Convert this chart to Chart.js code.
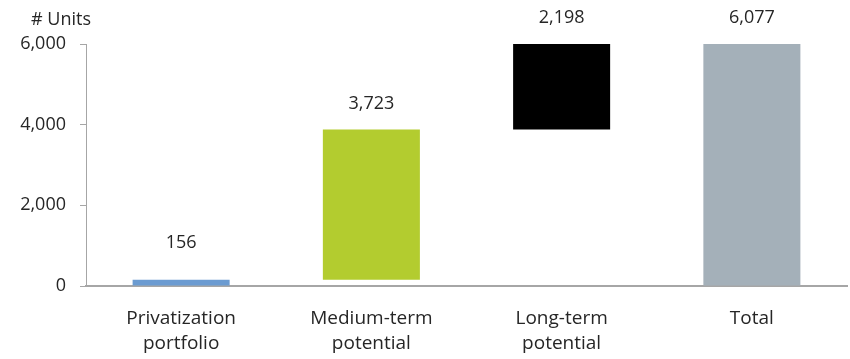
<!DOCTYPE html>
<html>
<head>
<meta charset="utf-8">
<script src="https://cdn.jsdelivr.net/npm/chart.js@4"></script>
<style>
    html, body { margin: 0; padding: 0; background: #fff; }
    #wrap { width: 850px; height: 359px; }
</style>
</head>
<body>
<div id="wrap"><canvas id="waterfall"></canvas></div>
<script>
// datos del gráfico
const categories = [['Privatization', 'portfolio'], ['Medium-term', 'potential'], ['Long-term', 'potential'], 'Total'];
const values = [156, 3723, 2198, 6077];
const isTotal = [false, false, false, true];
const barColors = ['#6b9bd1', '#b3cc2f', '#000000', '#a4b0b9'];
const yTicks = [0, 2000, 4000, 6000];
const unitLabel = '# Units';

// construir barras flotantes (cascada)
const floating = [];
let running = 0;
values.forEach((v, i) => {
    if (isTotal[i]) {
        floating.push([0, v]);
    } else {
        floating.push([running, running + v]);
        running += v;
    }
});

const FONT = "'Open Sans', sans-serif";
const TEXT = '#262626';

const labelsPlugin = {
    id: 'waterfallLabels',
    afterDatasetsDraw: (chart) => {
        const ctx = chart.ctx;
        const meta = chart.getDatasetMeta(0);
        const y = chart.scales.y;
        ctx.save();
        ctx.font = '18px ' + FONT;
        ctx.fillStyle = TEXT;
        ctx.textAlign = 'center';
        ctx.textBaseline = 'middle';
        meta.data.forEach((bar, i) => {
            const top = y.getPixelForValue(Math.min(floating[i][1], y.max));
            const py = Math.min(top - 26, y.getPixelForValue(0) - 43);
            ctx.fillText(values[i].toLocaleString('en-US'), bar.x, py);
        });
        // título del eje
        ctx.textAlign = 'left';
        ctx.fillText(unitLabel, 31, 20);
        ctx.restore();
    }
};

new Chart(document.getElementById('waterfall'), {
    type: 'bar',
    data: {
        labels: categories,
        datasets: [{
            data: floating,
            backgroundColor: barColors,
            borderWidth: 0,
            borderSkipped: false,
            barPercentage: 0.51,
            categoryPercentage: 1
        }]
    },
    options: {
        responsive: true,
        maintainAspectRatio: false,
        animation: false,
        layout: { padding: { top: 44, right: 3, left: 0, bottom: 0 } },
        plugins: {
            legend: { display: false },
            tooltip: { enabled: false }
        },
        scales: {
            x: {
                grid: { display: false, drawTicks: false },
                border: { color: '#a6a6a6', width: 2 },
                ticks: {
                    color: TEXT,
                    font: { family: FONT, size: 19, lineHeight: 1.32 },
                    padding: 20,
                    maxRotation: 0
                },
                afterFit: (scale) => { scale.height = 73; }
            },
            y: {
                min: 0,
                max: 6000,
                afterBuildTicks: (scale) => { scale.ticks = yTicks.map(v => ({ value: v })); },
                grid: { drawOnChartArea: false, drawTicks: true, tickLength: 6, color: '#a6a6a6' },
                border: { color: '#a6a6a6', width: 1 },
                ticks: {
                    color: TEXT,
                    font: { family: FONT, size: 18 },
                    padding: 14
                },
                afterFit: (scale) => { scale.width = 86; }
            }
        }
    },
    plugins: [labelsPlugin]
});
</script>
</body>
</html>
